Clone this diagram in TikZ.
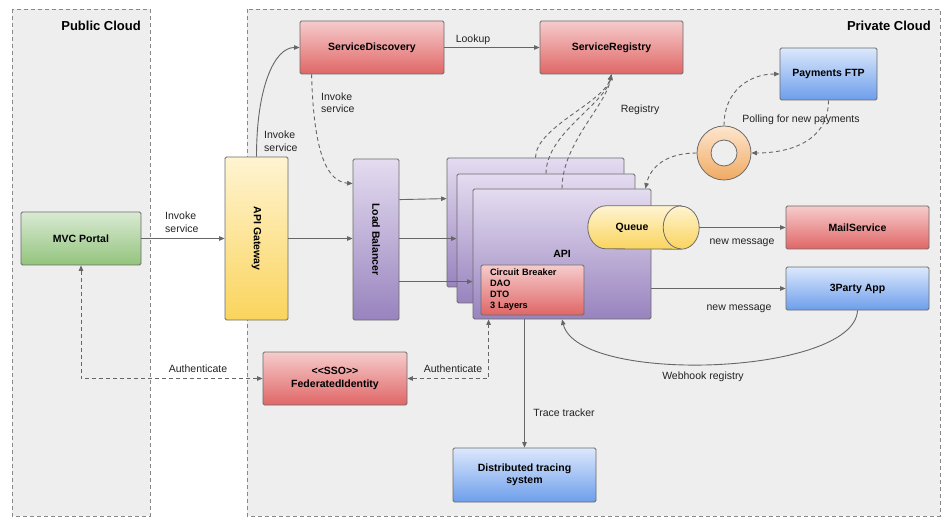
\documentclass[tikz,border=0pt]{standalone}
\usepackage{fontspec}
\setmainfont{Liberation Sans}
\usetikzlibrary{arrows.meta,shapes.geometric,calc}
\definecolor{cloudF}{HTML}{EEEEEE}
\definecolor{cloudL}{HTML}{888888}
\definecolor{boxL}{HTML}{6B6B6B}
\definecolor{lineC}{HTML}{666666}
\definecolor{txtC}{HTML}{222222}
\definecolor{redT}{HTML}{F6CCCC}
\definecolor{redB}{HTML}{E06666}
\definecolor{grnT}{HTML}{D9EAD3}
\definecolor{grnB}{HTML}{93C47D}
\definecolor{ylwT}{HTML}{FFF4D2}
\definecolor{ylwB}{HTML}{FAD45C}
\definecolor{purT}{HTML}{E4DCF0}
\definecolor{purB}{HTML}{9883BE}
\definecolor{bluT}{HTML}{DCE8FC}
\definecolor{bluB}{HTML}{6D9EEB}
\definecolor{orgT}{HTML}{FDE6CE}
\definecolor{orgB}{HTML}{F0AA62}
\newcommand\mybold{\fontsize{10.5}{12.5}\selectfont\bfseries}
\newcommand\mylbl{\fontsize{10.5}{12.5}\selectfont}
\newcommand\mysmall{\fontsize{9.2}{11}\selectfont\bfseries}
\newcommand\mytitle{\fontsize{13}{15}\selectfont\bfseries}
\begin{document}
\begin{tikzpicture}[x=1pt,y=-1pt,
  cloud/.style={fill=cloudF, draw=cloudL, line width=0.8pt, dash pattern=on 4pt off 3pt},
  box/.style={draw=boxL, line width=0.8pt, rounded corners=1.5pt, inner sep=2pt, align=center, font=\mybold, text=black},
  redbox/.style={box, top color=redT, bottom color=redB},
  grnbox/.style={box, top color=grnT, bottom color=grnB},
  ylwbox/.style={box, top color=ylwT, bottom color=ylwB},
  purbox/.style={box, top color=purT, bottom color=purB},
  blubox/.style={box, top color=bluT, bottom color=bluB},
  conn/.style={draw=lineC, line width=0.9pt, -{Triangle[length=5.5pt,width=4.5pt]}},
  dconn/.style={conn, dash pattern=on 4pt off 3pt},
  bconn/.style={draw=lineC, line width=0.9pt, dash pattern=on 4pt off 3pt, {Triangle[length=5.5pt,width=4.5pt]}-{Triangle[length=5.5pt,width=4.5pt]}},
  lbl/.style={font=\mylbl, text=txtC, inner sep=0pt, align=left},
  ttl/.style={font=\mytitle, text=black, inner sep=0pt},
]
\useasboundingbox (0,0) rectangle (952,526);
% clouds
\draw[cloud] (12,9) rectangle (150,516);
\draw[cloud] (247,9) rectangle (940,516);
\node[ttl, anchor=east] (tpub) at (141,26) {Public Cloud};
\node[ttl, anchor=east] (tpriv) at (931,26) {Private Cloud};

% boxes
\node[redbox, minimum width=144pt, minimum height=53pt] (sd) at (372,47.5) {ServiceDiscovery};
\node[redbox, minimum width=143pt, minimum height=53pt] (sr) at (611.5,47.5) {ServiceRegistry};
\node[blubox, minimum width=97pt, minimum height=52pt] (pf) at (828.5,74) {Payments FTP};
\node[circle, draw=boxL, line width=0.8pt, top color=orgT, bottom color=orgB, minimum size=54pt, inner sep=0pt] (dn) at (724,153) {};
\node[circle, draw=boxL, line width=0.8pt, fill=cloudF, minimum size=26pt, inner sep=0pt] (dnin) at (dn) {};
\node[grnbox, minimum width=120pt, minimum height=53pt] (mvc) at (81,238.5) {MVC Portal};
\node[ylwbox, minimum width=63pt, minimum height=163pt] (gw) at (256.5,238.5) {};
\node[font=\mybold, rotate=-90, inner sep=0pt] (gwt) at (gw) {API Gateway};
\node[purbox, minimum width=46pt, minimum height=161pt] (lb) at (376,239.5) {};
\node[font=\mybold, rotate=-90, inner sep=0pt] (lbt) at (lb) {Load Balancer};
\node[redbox, minimum width=144pt, minimum height=53pt] (fi) at (335,378.5) {<{}<SSO>{}>\\FederatedIdentity};
\node[purbox, minimum width=177pt, minimum height=129pt] (api1) at (535.5,222.5) {};
\node[purbox, minimum width=178pt, minimum height=129pt] (api2) at (546,238.5) {};
\node[purbox, minimum width=178pt, minimum height=130pt] (api3) at (562,254) {API};
\node[redbox, minimum width=103pt, minimum height=50pt, text width=85pt, align=left, font=\mysmall] (cb) at (532.5,290) {Circuit Breaker\\DAO\\DTO\\3 Layers};
% queue (cylinder drawn round an invisible node)
\node[minimum width=111pt, minimum height=43pt, inner sep=0pt] (q) at (643.5,227.5) {};
\shade[draw=boxL, line width=0.8pt, top color=ylwT, bottom color=ylwB]
  ($(q.north east)+(-18,0)$) -- ($(q.north west)+(18,0)$)
  arc[start angle=270, end angle=90, x radius=18, y radius=21.5]
  -- ($(q.south east)+(-18,0)$)
  arc[start angle=90, end angle=-90, x radius=18, y radius=21.5] -- cycle;
\draw[boxL, line width=0.8pt] ($(q.north east)+(-18,0)$) arc[start angle=270, end angle=90, x radius=18, y radius=21.5];
\node[font=\mybold, inner sep=0pt] (qt) at (632,228) {Queue};
\node[redbox, minimum width=143pt, minimum height=43pt] (ms) at (857.5,227.5) {MailService};
\node[blubox, minimum width=143pt, minimum height=43pt] (tp) at (857.5,288.5) {3Party App};
\node[blubox, minimum width=143pt, minimum height=54pt] (dts) at (524.5,475) {Distributed tracing\\system};

% connectors
\draw[conn] (mvc.east) -- (gw.west);
\draw[conn] (gw.east) -- (lb.west |- gw.east);
\draw[conn] ($(lb.north east)+(0,41)$) -- ($(api1.north west)+(0,41)$);
\draw[conn] ($(lb.north east)+(0,80)$) -- ($(api2.north west)+(0,65)$);
\draw[conn] ($(lb.north east)+(0,123)$) -- ($(api3.north west)+(0,93)$);
\draw[conn] (gw.north) .. controls +(0,-70) and +(-25,0) .. (sd.west);
\draw[dconn] ($(sd.south west)+(12,0)$) .. controls +(2,80) and +(-25,-2) .. ($(lb.north west)+(0,25)$);
\draw[conn] (sd.east) -- (sr.west);
\draw[dconn] (api1.north) .. controls +(0,-30) and +(-8,28) .. (sr.south);
\draw[dconn] (api2.north) .. controls +(0,-40) and +(-7,30) .. (sr.south);
\draw[dconn] (api3.north) .. controls +(0,-45) and +(-6,32) .. (sr.south);
\draw[dconn] (dn.north) .. controls +(0,-35) and +(-30,0) .. (pf.west);
\draw[dconn] (pf.south) .. controls +(0,40) and +(40,0) .. (dn.east);
\draw[dconn] (dn.west) .. controls +(-30,0) and +(5,-22) .. ($(api3.north east)+(-6,0)$);
\draw[conn] (q.east) -- (ms.west);
\draw[conn] (api3.east |- tp.west) -- (tp.west);
\draw[conn] (tp.south) .. controls +(-3,65) and +(17,66) .. (api3.south);
\draw[conn] (dts.north |- api3.south) -- (dts.north);
\draw[bconn] (fi.east) -| ($(api3.south west)+(16,0)$);
\draw[bconn] (mvc.south) |- (fi.west);

% labels
\node[lbl, anchor=west] (l1) at (165,222) {Invoke\\service};
\node[lbl, anchor=west] (l2) at (264,141) {Invoke\\service};
\node[lbl, anchor=west] (l3) at (321,103) {Invoke\\service};
\node[lbl] (l4) at (473,40) {Lookup};
\node[lbl] (l5) at (640,110) {Registry};
\node[lbl] (l6) at (801,120) {Polling for new payments};
\node[lbl] (l7) at (742,243) {new message};
\node[lbl] (l8) at (739,309) {new message};
\node[lbl] (l9) at (703,377) {Webhook registry};
\node[lbl] (l10) at (564,413) {Trace tracker};
\node[lbl] (l11) at (198,369) {Authenticate};
\node[lbl] (l12) at (453,369) {Authenticate};
\end{tikzpicture}
\end{document}
